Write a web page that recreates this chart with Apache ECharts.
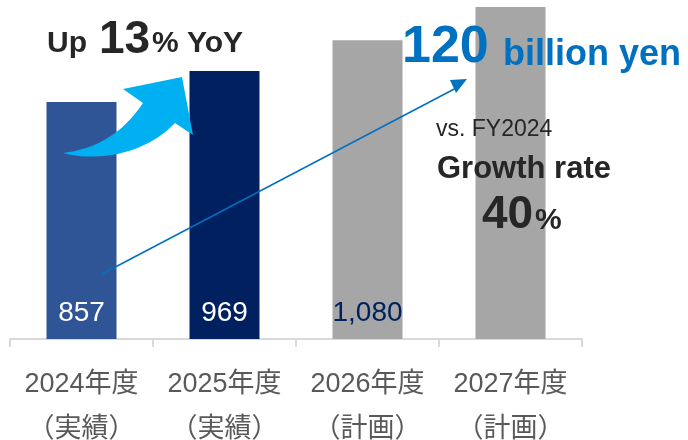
<!DOCTYPE html>
<html>
<head>
<meta charset="utf-8">
<script src="https://cdn.jsdelivr.net/npm/echarts@6/dist/echarts.min.js"></script>
<style>
  html, body { margin: 0; padding: 0; background: #fff; }
  #chart { width: 688px; height: 440px; }
</style>
</head>
<body>
<div id="chart"></div>
<script>
// 年度と実績/計画
const years = ['2024年度', '2025年度', '2026年度', '2027年度'];
const status = ['（実績）', '（実績）', '（計画）', '（計画）'];
// 売上（億円）
const sales = [857, 969, 1080, 1200];
const showValue = [true, true, true, false];

const barColors = ['#2F5597', '#002060', '#A6A6A6', '#A6A6A6'];
const labelColors = ['#ffffff', '#ffffff', '#002060', '#ffffff'];

const latin = '"Liberation Sans", Arial, "Noto Sans CJK JP", sans-serif';
const dark = '#262626';
const blue = '#0070C0';

function txt(x, y, text, size, color, weight) {
  return {
    type: 'text',
    z: 10,
    style: {
      x: x, y: y, text: text,
      font: (weight || 'bold') + ' ' + size + 'px ' + latin,
      fill: color,
      textAlign: 'left',
      textVerticalAlign: 'middle'
    }
  };
}

// cubic bezier sampled into points (for the curved arrow outline)
function bez(p0, p1, p2, p3, n) {
  const pts = [];
  for (let i = 0; i <= n; i++) {
    const t = i / n, u = 1 - t;
    pts.push([
      u * u * u * p0[0] + 3 * u * u * t * p1[0] + 3 * u * t * t * p2[0] + t * t * t * p3[0],
      u * u * u * p0[1] + 3 * u * u * t * p1[1] + 3 * u * t * t * p2[1] + t * t * t * p3[1]
    ]);
  }
  return pts;
}
const curvedArrow = []
  .concat(bez([63, 153], [95, 162], [145, 155], [175, 123], 24))
  .concat([[193, 135], [182, 77], [123, 89]])
  .concat(bez([143, 103], [128, 125], [105, 148], [63, 153], 24));

const chart = echarts.init(document.getElementById('chart'));

const option = {
  animation: false,
  grid: { left: 10, right: 106, top: 7, bottom: 101, outerBoundsMode: 'none', containLabel: false },
  xAxis: {
    type: 'category',
    data: years.map((y, i) => y + '\n' + status[i]),
    axisLine: { lineStyle: { color: '#D9D9D9', width: 2 } },
    axisTick: { show: true, interval: 0, length: 8, lineStyle: { color: '#D9D9D9', width: 2 } },
    axisLabel: {
      interval: 0,
      color: '#595959',
      fontSize: 27,
      fontFamily: latin,
      lineHeight: 45,
      margin: 23
    }
  },
  yAxis: {
    type: 'value',
    min: 0,
    max: 1200,
    show: false,
    splitLine: { show: false }
  },
  series: [{
    type: 'bar',
    barWidth: 70,
    data: sales.map((v, i) => ({
      value: v,
      itemStyle: { color: barColors[i] },
      label: { show: showValue[i], color: labelColors[i] }
    })),
    label: {
      position: 'insideBottom',
      distance: 12,
      fontSize: 28,
      fontFamily: latin,
      formatter: p => p.value.toLocaleString('en-US')
    }
  }],
  graphic: [
    {
      type: 'polygon',
      z: 5,
      shape: { points: curvedArrow },
      style: { fill: '#00B0F0' }
    },
    {
      type: 'line',
      z: 5,
      shape: { x1: 102, y1: 274, x2: 460, y2: 86 },
      style: { stroke: blue, lineWidth: 1.5 }
    },
    {
      type: 'polygon',
      z: 5,
      shape: { points: [[450, 80], [467, 79], [456, 93]] },
      style: { fill: blue }
    },
    txt(47, 44, 'Up', 30, dark),
    txt(99, 40, '13', 46, dark),
    txt(152, 44, '% YoY', 30, dark),
    txt(402, 48, '120', 52, blue),
    txt(503, 55, 'billion yen', 36, blue),
    txt(436, 130, 'vs. FY2024', 23, dark, 'normal'),
    txt(437, 169, 'Growth rate', 31, dark),
    txt(482, 215, '40', 46, dark),
    txt(535, 221, '%', 30, dark)
  ]
};

chart.setOption(option);
</script>
</body>
</html>
